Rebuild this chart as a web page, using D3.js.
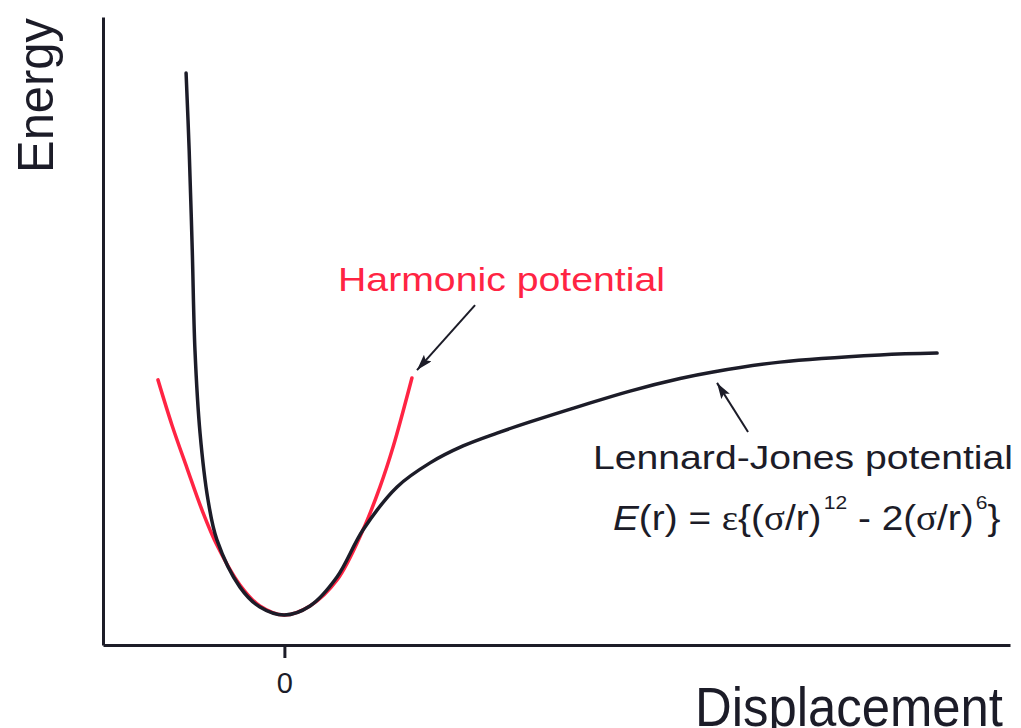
<!DOCTYPE html>
<html>
<head>
<meta charset="utf-8">
<script src="https://cdn.jsdelivr.net/npm/d3@7"></script>
<style>
  html, body { margin: 0; padding: 0; background: #fff; }
  svg { display: block; }
  text { font-family: "Liberation Sans", Arial, Helvetica, sans-serif; }
</style>
</head>
<body>
<svg id="chart" width="1021" height="728"></svg>
<script>
// Lennard-Jones potential curve (displacement, energy)
const ljDisp   = [-0.542, -0.525, -0.508, -0.493, -0.465, -0.421, -0.372, -0.245, -0.135, 0.000, 0.141, 0.290, 0.433, 0.621, 0.803, 0.985, 1.172, 1.354, 1.630, 1.905, 2.181, 2.363, 2.732, 3.283, 3.598];
const ljEnergy = [ 0.995,  0.713,  0.347, -0.020, -0.324, -0.569, -0.715, -0.888, -0.961, -0.990, -0.957, -0.851, -0.679, -0.521, -0.433, -0.371, -0.324, -0.283, -0.225, -0.170, -0.124, -0.100, -0.064, -0.038, -0.031];

// Harmonic approximation around the minimum
const harmDisp   = [-0.697, -0.620, -0.537, -0.454, -0.372, -0.245, -0.135, 0.000, 0.141, 0.290, 0.433, 0.527, 0.599, 0.703];
const harmEnergy = [-0.129, -0.294, -0.452, -0.606, -0.734, -0.880, -0.957, -0.990, -0.957, -0.862, -0.679, -0.521, -0.375, -0.122];

// Axis ticks
const xTicks = [0];
const xTickLabels = ["0"];

// Annotation arrows: [fromDisp, fromEnergy, toDisp, toEnergy]
const harmArrow = [1.051, 0.145, 0.731, -0.093];
const ljArrow   = [2.556, -0.320, 2.385, -0.140];

const svg = d3.select("#chart");
const ink = "#1c1c28";
const red = "#ff2443";

const x = d3.scaleLinear().domain([-1, 4]).range([103, 1010]);
const y = d3.scaleLinear().domain([-1.1, 1.2]).range([645, 17]);

// Arrowhead marker
svg.append("defs").append("marker")
  .attr("id", "head")
  .attr("markerUnits", "userSpaceOnUse")
  .attr("viewBox", "0 0 16 10")
  .attr("refX", 16).attr("refY", 5)
  .attr("markerWidth", 16).attr("markerHeight", 10)
  .attr("orient", "auto")
  .append("path")
  .attr("d", "M0,0 L16,5 L0,10 L3,5 Z")
  .attr("fill", ink);

// Axes
const xAxis = d3.axisBottom(x)
  .tickValues(xTicks)
  .tickFormat((d, i) => xTickLabels[i])
  .tickSizeInner(13)
  .tickSizeOuter(0)
  .tickPadding(14);
const gx = svg.append("g").attr("transform", `translate(0,${y.range()[0]})`).call(xAxis);
gx.select(".domain").attr("stroke", ink).attr("stroke-width", 3);
gx.selectAll(".tick line").attr("stroke", ink).attr("stroke-width", 3);
gx.selectAll(".tick text")
  .attr("fill", ink)
  .style("font-size", "29px")
  .style("font-family", "'Liberation Sans', Arial, sans-serif");

const yAxis = d3.axisLeft(y).tickValues([]).tickSizeOuter(0);
const gy = svg.append("g").attr("transform", `translate(${x.range()[0]},0)`).call(yAxis);
gy.select(".domain").attr("stroke", ink).attr("stroke-width", 3);

// Curves
const line = d3.line().x(d => x(d[0])).y(d => y(d[1])).curve(d3.curveCatmullRom.alpha(0.5));

svg.append("path")
  .datum(harmDisp.map((d, i) => [d, harmEnergy[i]]))
  .attr("d", line)
  .attr("fill", "none")
  .attr("stroke", red)
  .attr("stroke-width", 3.5)
  .attr("stroke-linecap", "round");

svg.append("path")
  .datum(ljDisp.map((d, i) => [d, ljEnergy[i]]))
  .attr("d", line)
  .attr("fill", "none")
  .attr("stroke", ink)
  .attr("stroke-width", 3.5)
  .attr("stroke-linecap", "round");

// Arrows
[harmArrow, ljArrow].forEach(a => {
  svg.append("line")
    .attr("x1", x(a[0])).attr("y1", y(a[1]))
    .attr("x2", x(a[2])).attr("y2", y(a[3]))
    .attr("stroke", ink)
    .attr("stroke-width", 2)
    .attr("marker-end", "url(#head)");
});

// Axis titles
svg.append("text")
  .attr("transform", "translate(53,173) rotate(-90)")
  .attr("font-size", 50)
  .attr("fill", ink)
  .attr("textLength", 155)
  .attr("lengthAdjust", "spacingAndGlyphs")
  .text("Energy");

svg.append("text")
  .attr("x", 695).attr("y", 726)
  .attr("font-size", 56)
  .attr("fill", ink)
  .attr("textLength", 308)
  .attr("lengthAdjust", "spacingAndGlyphs")
  .text("Displacement");

// Curve labels
svg.append("text")
  .attr("x", 338).attr("y", 291)
  .attr("font-size", 33)
  .attr("fill", red)
  .attr("textLength", 327)
  .attr("lengthAdjust", "spacingAndGlyphs")
  .text("Harmonic potential");

svg.append("text")
  .attr("x", 593).attr("y", 469)
  .attr("font-size", 34)
  .attr("fill", ink)
  .attr("textLength", 420)
  .attr("lengthAdjust", "spacingAndGlyphs")
  .text("Lennard-Jones potential");

// Formula E(r) = ε{(σ/r)^12 - 2(σ/r)^6}
const fg = svg.append("g");
const ft = fg.append("text")
  .attr("x", 0).attr("y", 0)
  .attr("font-size", 35)
  .attr("fill", ink);
const serif = "'Liberation Serif', 'Times New Roman', serif";
const parts = [
  { t: "E", style: "italic" },
  { t: "(r) = " },
  { t: "\u03B5", font: serif },
  { t: "{(" },
  { t: "\u03C3", font: serif },
  { t: "/r)" },
  { t: "12", sup: true },
  { t: " - 2(" },
  { t: "\u03C3", font: serif },
  { t: "/r)" },
  { t: "6", sup: true },
  { t: "}" }
];
let prevSup = false;
parts.forEach(p => {
  const ts = ft.append("tspan").text(p.t);
  if (p.style) ts.attr("font-style", p.style);
  if (p.font) ts.style("font-family", p.font);
  if (p.sup) {
    ts.attr("font-size", 19).attr("dy", -21).attr("dx", 2);
    prevSup = true;
  } else if (prevSup) {
    ts.attr("dy", 21);
    prevSup = false;
  }
});
// stretch formula horizontally to its span
const fb = ft.node().getBBox();
const targetW = 388;
const sx = targetW / fb.width;
fg.attr("transform", `translate(${613 - fb.x * sx},530) scale(${sx},1)`);
</script>
</body>
</html>
